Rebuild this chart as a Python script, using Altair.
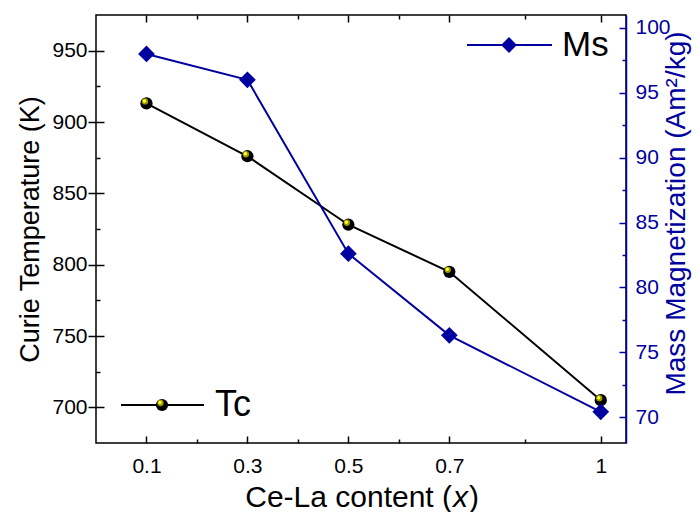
import altair as alt
import pandas as pd

# ---- data ----
X = [0.1, 0.3, 0.5, 0.7, 1.0]
TC = [913, 876, 828, 795, 705]
MS = [98.0, 96.0, 82.6, 76.3, 70.4]

X_MAJOR = [0.1, 0.3, 0.5, 0.7, 1.0]
X_MINOR = [0.2, 0.4, 0.6, 0.85]
TC_MAJOR = [700, 750, 800, 850, 900, 950]
TC_MINOR = [725, 775, 825, 875, 925]
MS_MAJOR = [70, 75, 80, 85, 90, 95, 100]
MS_MINOR = [72.5, 77.5, 82.5, 87.5, 92.5, 97.5]

FONT = "Liberation Sans"
BLUE = "#0000A0"
W, H = 530, 428

df = pd.DataFrame({"x": X, "tc": TC, "ms": MS})
one = pd.DataFrame({"a": [0]})

xs = alt.Scale(domain=[0, 1.05], nice=False, zero=False)
ys_tc = alt.Scale(domain=[675, 975], nice=False, zero=False)
ys_ms = alt.Scale(domain=[68, 101], nice=False, zero=False)


def ax(**kw):
    base = dict(grid=False, labelFont=FONT, labelFontSize=21, labelColor="black",
                tickColor="black", tickWidth=1.5, domain=False, title=None,
                labels=False, ticks=True)
    base.update(kw)
    return alt.Axis(**base)


base = alt.Chart(df)

tc_line = base.mark_line(color="black", strokeWidth=2).encode(
    x=alt.X("x:Q", scale=xs, axis=ax(orient="bottom", values=X_MAJOR, format="~g",
                                     labels=True, offset=-7, tickSize=7, labelPadding=12)),
    y=alt.Y("tc:Q", scale=ys_tc, axis=ax(orient="left", values=TC_MAJOR, labels=True,
                                         tickSize=8, labelPadding=1,
                                         title="Curie Temperature (K)", titleFont=FONT,
                                         titleFontSize=27, titleFontWeight="normal",
                                         titleColor="black", titleAngle=270,
                                         titleAlign="center", titleBaseline="middle",
                                         titleX=-66, titleY=214)),
)

tc_pts = base.mark_circle(color="black", size=150, opacity=1).encode(
    x=alt.X("x:Q", scale=xs, axis=ax(orient="bottom", values=X_MINOR, offset=-4, tickSize=4)),
    y=alt.Y("tc:Q", scale=ys_tc, axis=ax(orient="left", values=TC_MAJOR, offset=-8, tickSize=8)),
)

tc_glow = base.mark_circle(color="#9a9a00", size=40, opacity=1, xOffset=-1.5, yOffset=-2).encode(
    x=alt.X("x:Q", scale=xs, axis=ax(orient="top", values=X_MAJOR, offset=-7, tickSize=7)),
    y=alt.Y("tc:Q", scale=ys_tc, axis=ax(orient="left", values=TC_MINOR, offset=-4, tickSize=4)),
)

tc_hl = base.mark_circle(color="#ffff30", size=12, opacity=1, xOffset=-2, yOffset=-2.5).encode(
    x=alt.X("x:Q", scale=xs, axis=None),
    y=alt.Y("tc:Q", scale=ys_tc, axis=None),
)

ms_line = base.mark_line(color=BLUE, strokeWidth=2).encode(
    x=alt.X("x:Q", scale=xs, axis=ax(orient="top", values=X_MINOR, offset=-4, tickSize=4)),
    y=alt.Y("ms:Q", scale=ys_ms, axis=ax(orient="right", values=MS_MAJOR, labels=True,
                                         offset=-7, tickSize=7, tickColor=BLUE,
                                         labelColor=BLUE, labelPadding=9)),
)

ms_pts = base.mark_point(shape="diamond", filled=True, size=280, color=BLUE, opacity=1).encode(
    x=alt.X("x:Q", scale=xs, axis=None),
    y=alt.Y("ms:Q", scale=ys_ms, axis=ax(orient="right", values=MS_MINOR, offset=-4,
                                         tickSize=4, tickColor=BLUE)),
)

ms_frame = base.mark_line(opacity=0).encode(
    x=alt.X("x:Q", scale=xs, axis=None),
    y=alt.Y("ms:Q", scale=ys_ms, axis=ax(orient="right", values=MS_MAJOR, ticks=False,
                                         domain=True, domainColor=BLUE, domainWidth=1.5,
                                         title="Mass Magnetization (Am²/kg)", titleFont=FONT,
                                         titleFontSize=28, titleFontWeight="normal",
                                         titleColor=BLUE, titleAngle=270,
                                         titleAlign="center", titleBaseline="middle",
                                         titleX=50, titleY=198)),
)

o = alt.Chart(one)

# legends
leg_ms_rule = o.mark_rule(color=BLUE, strokeWidth=2).encode(
    x=alt.value(371), x2=alt.value(456), y=alt.value(30))
leg_ms_pt = o.mark_point(shape="diamond", filled=True, size=250, color=BLUE, opacity=1).encode(
    x=alt.value(413), y=alt.value(30))
leg_ms_txt = o.mark_text(text="Ms", font=FONT, fontSize=35, align="left", baseline="middle",
                         color="black").encode(x=alt.value(466), y=alt.value(30))

leg_tc_rule = o.mark_rule(color="black", strokeWidth=2).encode(
    x=alt.value(25), x2=alt.value(108), y=alt.value(390))
leg_tc_pt = o.mark_circle(color="black", size=150, opacity=1).encode(
    x=alt.value(66), y=alt.value(390))
leg_tc_glow = o.mark_circle(color="#9a9a00", size=40, opacity=1).encode(
    x=alt.value(64.5), y=alt.value(388))
leg_tc_hl = o.mark_circle(color="#ffff30", size=12, opacity=1).encode(
    x=alt.value(64), y=alt.value(387.5))
leg_tc_txt = o.mark_text(text="Tc", font=FONT, fontSize=36, align="left", baseline="middle",
                         color="black").encode(x=alt.value(119), y=alt.value(390))

# x title with italic x
XT_Y = 483
xt1 = o.mark_text(text="Ce-La content (", font=FONT, fontSize=30, align="right",
                  baseline="middle", color="black").encode(x=alt.value(356), y=alt.value(XT_Y))
xt2 = o.mark_text(text="x", font=FONT, fontSize=30, fontStyle="italic", align="left",
                  baseline="middle", color="black").encode(x=alt.value(357), y=alt.value(XT_Y))
xt3 = o.mark_text(text=")", font=FONT, fontSize=30, align="left",
                  baseline="middle", color="black").encode(x=alt.value(373), y=alt.value(XT_Y))

chart = alt.layer(
    tc_line, tc_pts, tc_glow, tc_hl, ms_line, ms_pts, ms_frame,
    leg_ms_rule, leg_ms_pt, leg_ms_txt,
    leg_tc_rule, leg_tc_pt, leg_tc_glow, leg_tc_hl, leg_tc_txt,
    xt1, xt2, xt3,
).resolve_scale(
    y="independent"
).resolve_axis(
    x="independent", y="independent"
).properties(
    width=W, height=H,
    autosize=alt.AutoSizeParams(type="none"),
    padding={"left": 88, "top": 7, "right": 66, "bottom": 69},
).configure_view(
    stroke="black", strokeWidth=1.5
)

chart.save("out.html", embed_options={"renderer": "svg", "actions": False})
